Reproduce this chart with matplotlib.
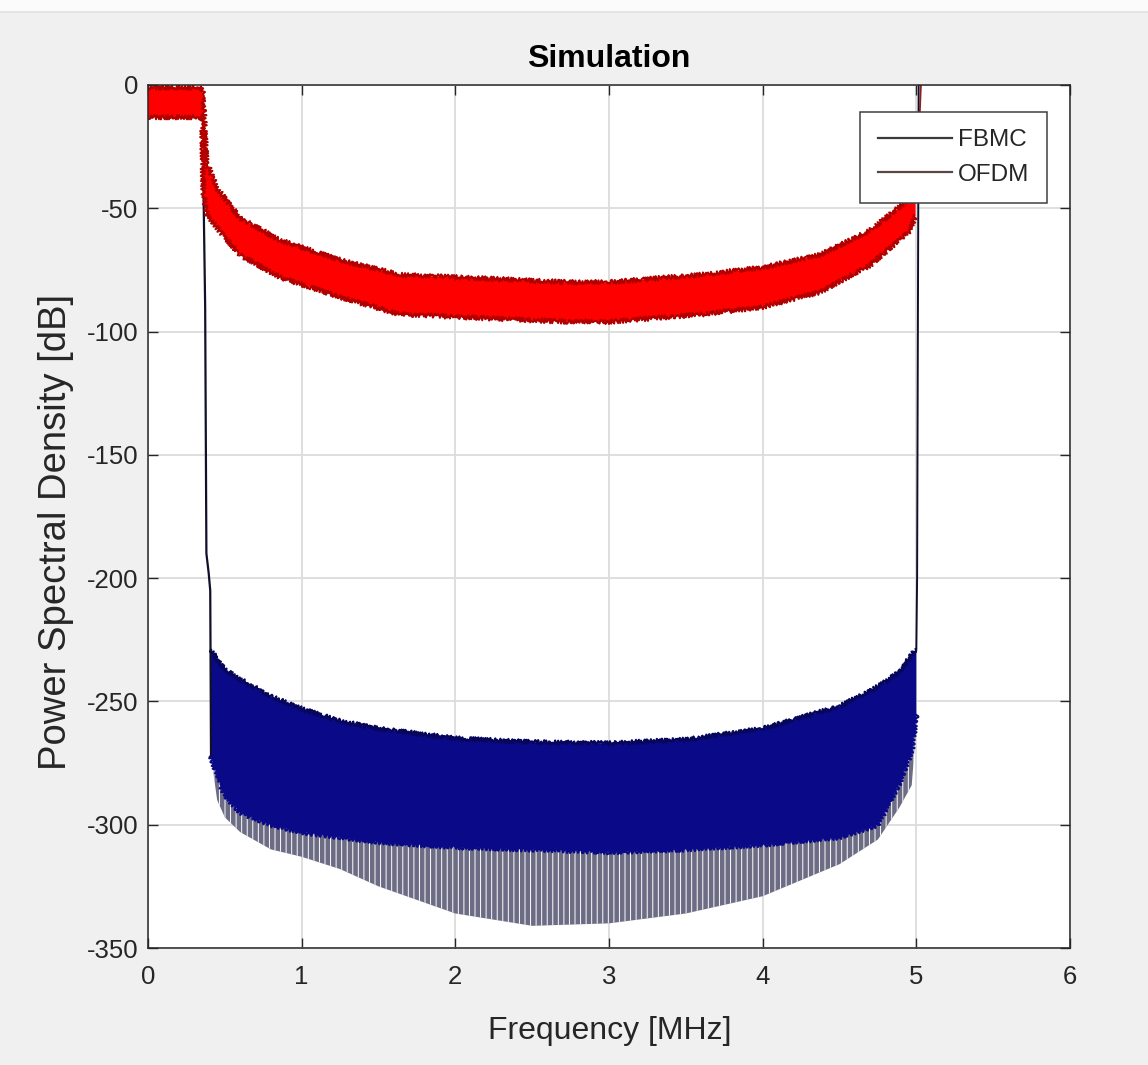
import matplotlib
matplotlib.use("Agg")
import matplotlib.pyplot as plt
from matplotlib.lines import Line2D
from matplotlib.patches import Rectangle

# ---------------- data ----------------
x_ticks = [0, 1, 2, 3, 4, 5, 6]
y_ticks = [-350, -300, -250, -200, -150, -100, -50, 0]

# OFDM spectrum: upper / lower envelope of the dense red band
ofdm_freq = [0.0, 0.352, 0.36, 0.38, 0.45, 0.6, 0.86, 1.25, 1.64, 2.0, 2.73,
             3.0, 3.6, 4.0, 4.37, 4.7, 4.96, 4.995]
ofdm_top = [-1, -1, -5, -31, -42, -54, -63, -71, -77, -78, -80,
            -80, -77, -74, -69, -59, -46, -42]
ofdm_bot = [-13, -13, -43, -52, -58, -69, -78, -86, -93, -94, -96,
            -96, -93, -90, -84, -73, -59, -53]
ofdm_spike_f = [5.0, 5.03]
ofdm_spike_v = [-45, 0]

# FBMC spectrum: upper envelope, lower edge of dense part, lower edge of spikes
fbmc_freq = [0.41, 0.45, 0.5, 0.6, 0.8, 1.0, 1.25, 1.5, 2.0, 2.5, 3.0, 3.5,
             4.0, 4.5, 4.75, 4.89, 4.97, 5.0]
fbmc_top = [-229, -233, -237, -241, -248, -253, -258, -261, -265, -266.5, -267, -265.5,
            -261, -252, -244, -238, -231, -229]
fbmc_mid = [-272, -280, -288, -295, -300, -303, -305, -307, -309, -310, -311, -310,
            -308, -305, -300, -283, -270, -255]
fbmc_low = [-272, -290, -297, -303, -310, -313, -318, -325, -336, -341, -340, -336,
            -329, -316, -306, -293, -284, -260]
fbmc_left_f = [0.36, 0.372, 0.38, 0.395, 0.405, 0.41]
fbmc_left_v = [-38, -90, -190, -198, -205, -272]
fbmc_right_f = [5.0, 5.005, 5.015]
fbmc_right_v = [-229, -200, 0]

series_names = ["FBMC", "OFDM"]

# ---------------- style ----------------
W, H = 1148, 1065
plt.rcParams["font.family"] = ["Liberation Sans", "DejaVu Sans"]
plt.rcParams["hatch.color"] = "white"
plt.rcParams["hatch.linewidth"] = 0.7
txt = "#262626"

fig = plt.figure(figsize=(W / 100, H / 100), dpi=100, facecolor="#f0f0f0")
fig.patches.append(Rectangle((0, 1 - 11 / H), 1, 11 / H, transform=fig.transFigure,
                             facecolor="#fbfbfb", edgecolor="none", zorder=-10))
fig.patches.append(Rectangle((0, 1 - 13 / H), 1, 2 / H, transform=fig.transFigure,
                             facecolor="#e4e4e4", edgecolor="none", zorder=-10))

ax = fig.add_axes([148 / W, 1 - 948 / H, (1070 - 148) / W, (948 - 85) / H])
ax.set_facecolor("white")

# FBMC
ax.fill_between(fbmc_freq, fbmc_mid, fbmc_low, facecolor="#6c6c84",
                edgecolor="white", linewidth=0, hatch="|||", zorder=2)
ax.fill_between(fbmc_freq, fbmc_top, fbmc_mid, facecolor="#0a0a88",
                linewidth=0, zorder=3)
top_edge, = ax.plot(fbmc_freq, fbmc_top, color="#06065a", lw=1.5, zorder=3.5)
top_edge.set_sketch_params(scale=2.2, length=3, randomness=2)
mid_edge, = ax.plot(fbmc_freq, fbmc_mid, color="#0a0a88", lw=1.5, zorder=3.4)
mid_edge.set_sketch_params(scale=2.5, length=4, randomness=2)
ax.plot(fbmc_left_f, fbmc_left_v, color="#10102a", lw=1.6, zorder=3.6)
ax.plot(fbmc_right_f, fbmc_right_v, color="#10102a", lw=1.4, zorder=3.6)

# OFDM
ax.fill_between(ofdm_freq, ofdm_top, ofdm_bot, facecolor="#ff0000",
                linewidth=0, zorder=4)
for env in (ofdm_top, ofdm_bot):
    e, = ax.plot(ofdm_freq, env, color="#b00000", lw=1.4, zorder=4.5)
    e.set_sketch_params(scale=2.4, length=3, randomness=2)
ax.plot(ofdm_spike_f, ofdm_spike_v, color="#8a2020", lw=1.3, zorder=4.5)

# axes
ax.set_xlim(0, 6)
ax.set_ylim(-350, 0)
ax.set_xticks(x_ticks)
ax.set_yticks(y_ticks)
ax.set_xticklabels([str(v) for v in x_ticks])
ax.set_yticklabels([str(v) for v in y_ticks])
ax.grid(True, color="#dcdcdc", lw=1.3, zorder=0)
ax.set_axisbelow(True)
ax.tick_params(direction="in", length=7, width=1.0, colors=txt, labelsize=18.5,
               top=True, right=True)
ax.tick_params(axis="x", pad=12)
ax.tick_params(axis="y", pad=7)
for s in ax.spines.values():
    s.set_color(txt)
    s.set_linewidth(1.1)
    s.set_zorder(6)

ax.set_title("Simulation", fontsize=23, fontweight="bold", color="black", pad=13)
ax.set_xlabel("Frequency [MHz]", fontsize=23, color=txt)
ax.set_ylabel("Power Spectral Density [dB]", fontsize=27.5, color=txt)
ax.xaxis.set_label_coords(0.501, -0.079)
ax.yaxis.set_label_coords(-0.080, 0.482)

handles = [Line2D([], [], color="#3a3a3a", lw=1.6),
           Line2D([], [], color="#5a4545", lw=1.6)]
leg = ax.legend(handles, series_names, loc="upper right",
                bbox_to_anchor=(0.975, 0.969), borderaxespad=0, fontsize=17.5,
                handlelength=3.05, handletextpad=0.25, labelspacing=0.52,
                borderpad=0.72, fancybox=False, framealpha=1, edgecolor="#404040")
leg.get_frame().set_linewidth(1.1)
leg.set_zorder(10)
for t in leg.get_texts():
    t.set_color(txt)

fig.savefig("out.png", dpi=100, facecolor=fig.get_facecolor())
